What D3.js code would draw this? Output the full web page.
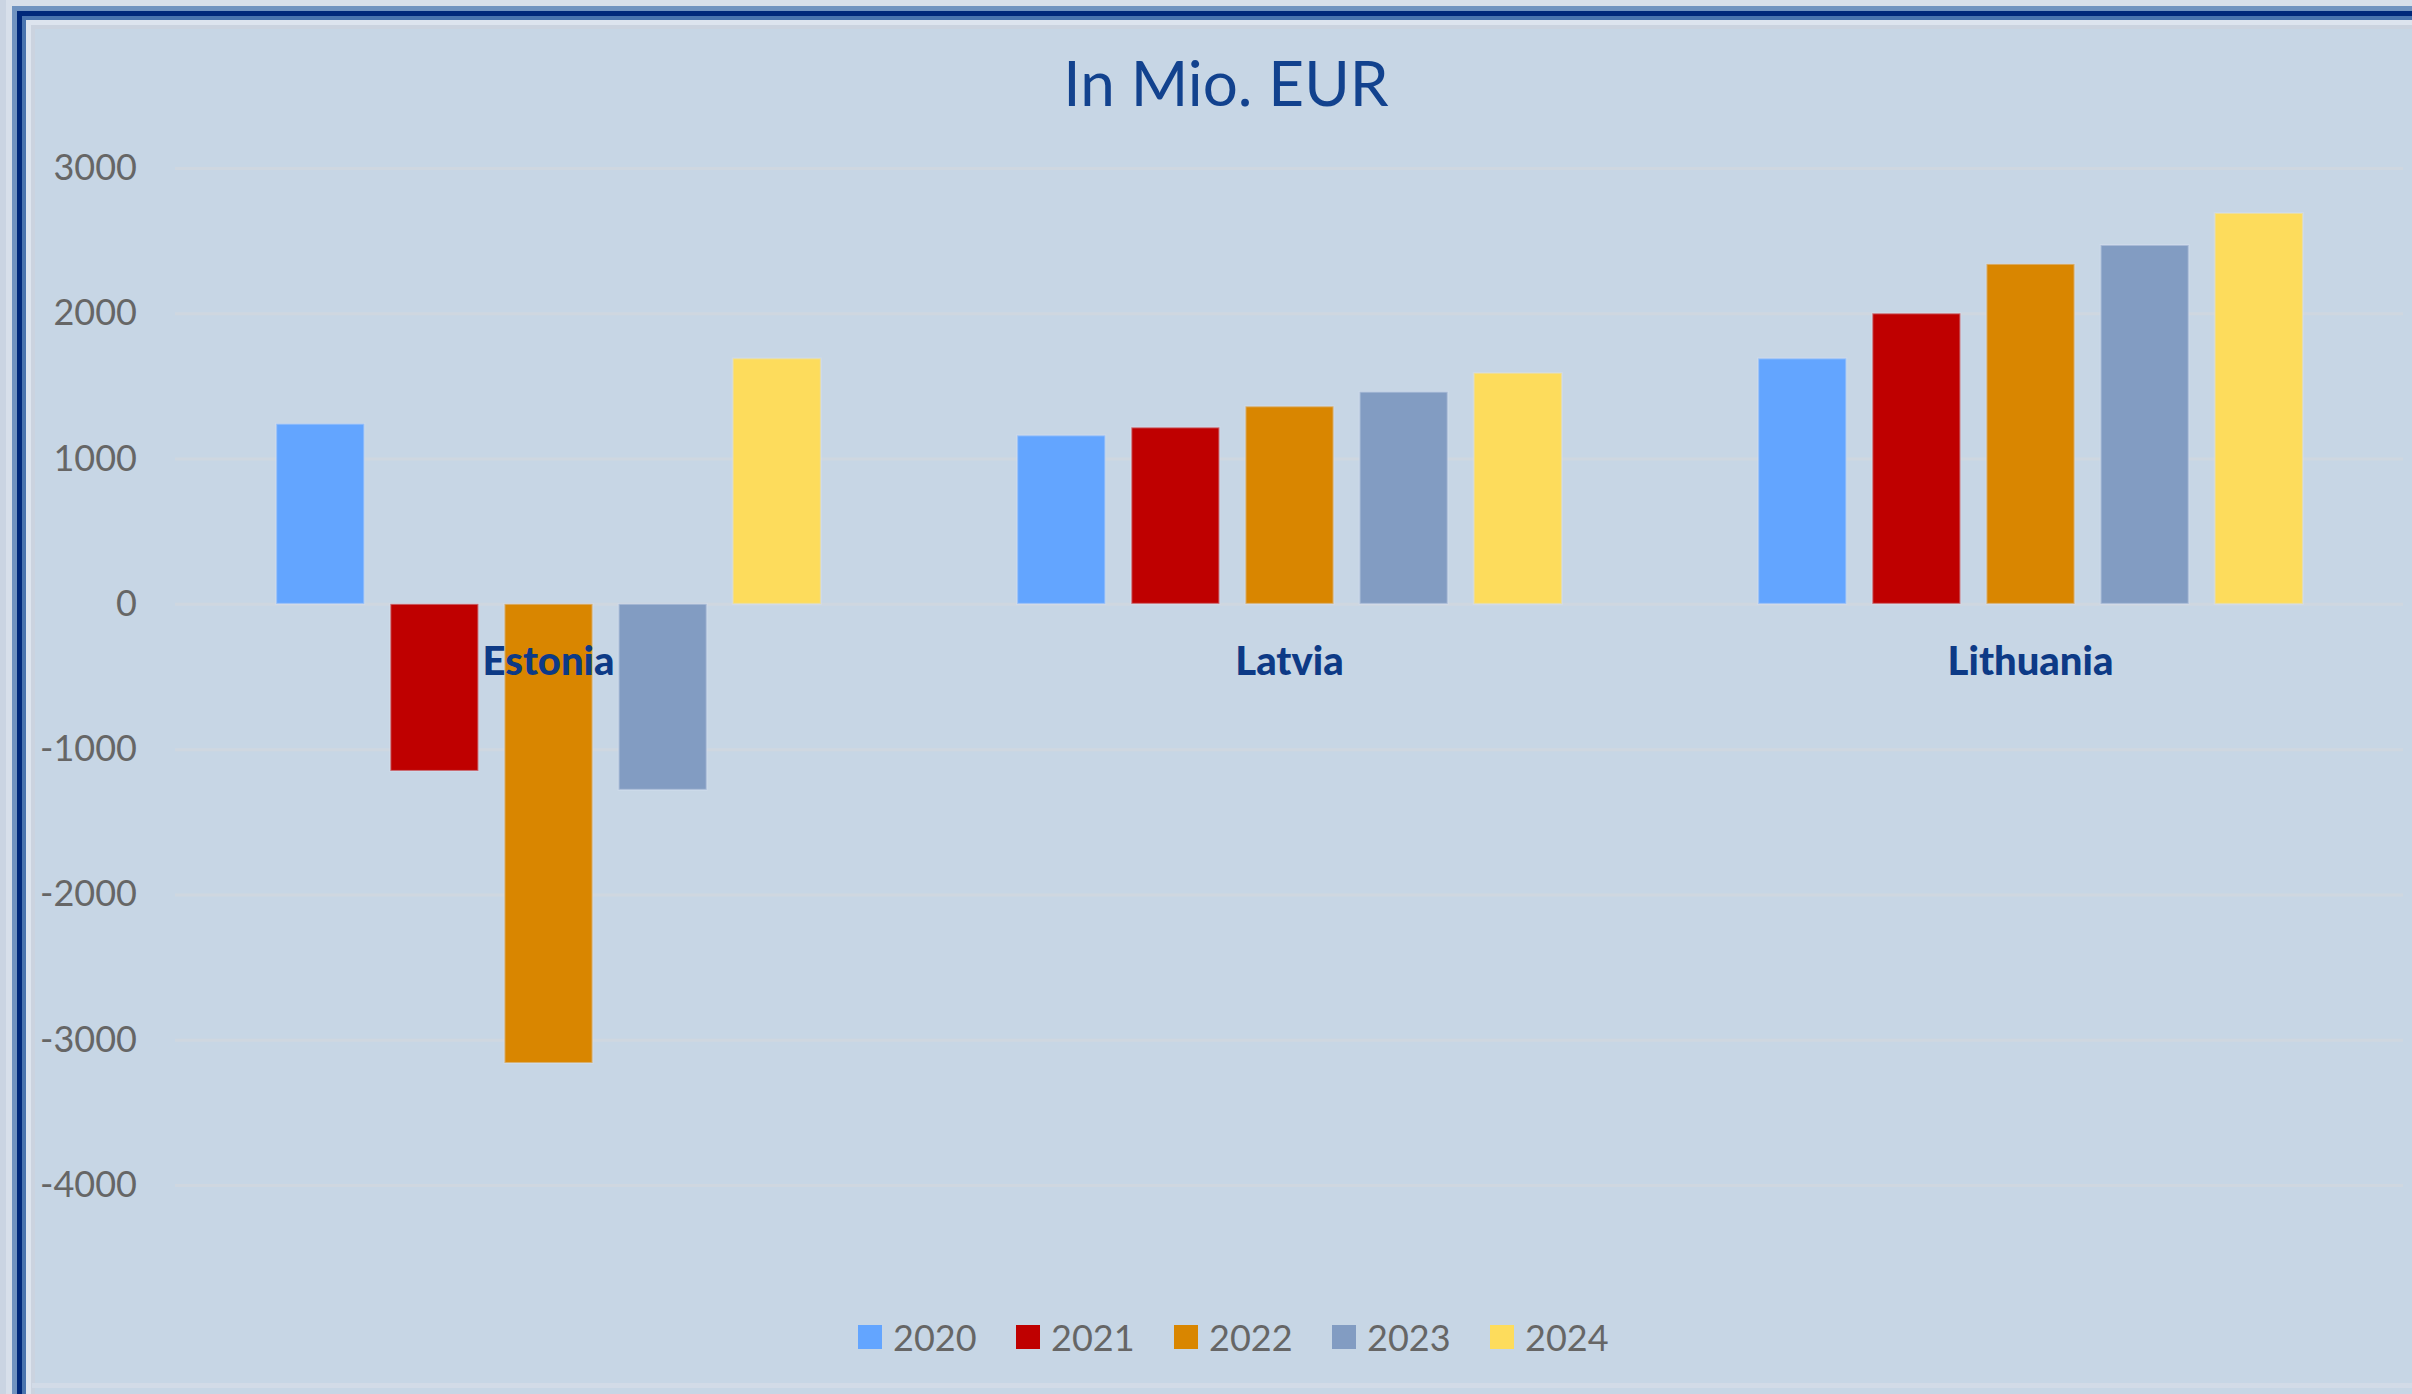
<!DOCTYPE html>
<html>
<head>
<meta charset="utf-8">
<script src="https://cdn.jsdelivr.net/npm/d3@7"></script>
<style>
	body { margin: 0; background: #c7d6e5; }
	svg { display: block; }
</style>
</head>
<body>
<div class="chart"></div>
<script>
var countries = ["Estonia", "Latvia", "Lithuania"];
var years = ["2020", "2021", "2022", "2023", "2024"];

// values in Mio. EUR, one array per year (Estonia, Latvia, Lithuania)
var values2020 = [1240, 1160, 1690];
var values2021 = [-1150, 1215, 2000];
var values2022 = [-3160, 1360, 2340];
var values2023 = [-1280, 1460, 2470];
var values2024 = [1690, 1590, 2690];

var yTicks = [3000, 2000, 1000, 0, -1000, -2000, -3000, -4000];
var colors = ["#63a5ff", "#bf0000", "#d98600", "#829cc2", "#fddc5c"];

var seriesValues = [values2020, values2021, values2022, values2023, values2024];
var dataSet = [];
countries.forEach(function(c, i) {
	years.forEach(function(yr, j) {
		dataSet.push({ country: c, year: yr, value: seriesValues[j][i] });
	});
});

var width = 2412;
var height = 1394;

var svg = d3.select(".chart")
	.append("svg")
	.attr("width", width)
	.attr("height", height);

svg.append("rect")
	.attr("width", width)
	.attr("height", height)
	.attr("fill", "#c7d6e5");

// frame: top offset, thickness, colour (left side sits 6px further in)
var frame = [
	[0, 6, "#d7dfea"],
	[6, 5, "#7093c0"],
	[11, 5, "#00287a"],
	[16, 4, "#4a74ae"],
	[20, 5, "#dde4ee"],
	[25, 4, "#cbd3df"]
];
frame.forEach(function(f) {
	svg.append("rect")
		.attr("x", f[0] + 6)
		.attr("y", f[0])
		.attr("width", width)
		.attr("height", f[1])
		.attr("fill", f[2]);
	svg.append("rect")
		.attr("x", f[0] + 6)
		.attr("y", f[0])
		.attr("width", f[1])
		.attr("height", height)
		.attr("fill", f[2]);
});
svg.append("rect")
	.attr("x", 0).attr("y", 0)
	.attr("width", 6).attr("height", height)
	.attr("fill", "#cad4e2");
svg.append("rect")
	.attr("x", 32).attr("y", 1383)
	.attr("width", width).attr("height", 5)
	.attr("fill", "#d2dbe7");

var plotLeft = 175;
var plotRight = 2403;

var x0 = d3.scaleBand()
	.domain(countries)
	.range([178, 2401]);

var x1 = d3.scaleBand()
	.domain(years)
	.range([0, x0.bandwidth()])
	.paddingInner(0.228)
	.paddingOuter(0.86);

var y = d3.scaleLinear()
	.domain([-4000, 3000])
	.range([1185, 168]);

var color = d3.scaleOrdinal()
	.domain(years)
	.range(colors);

// Axis + gridlines
var yAxis = svg.append("g")
	.attr("class", "y-axis")
	.attr("transform", "translate(" + plotLeft + ",0)")
	.call(d3.axisLeft(y)
		.tickValues(yTicks)
		.tickSize(-(plotRight - plotLeft))
		.tickPadding(38)
		.tickFormat(function(d) { return String(d); }));

yAxis.select(".domain").remove();
yAxis.selectAll(".tick line")
	.attr("stroke", "#cfd7e0")
	.attr("stroke-width", 3);
yAxis.selectAll(".tick text")
	.attr("fill", "#666666")
	.style("font-family", "Lato, sans-serif")
	.style("font-size", "36px");

// Bars
svg.append("g")
	.attr("class", "bars")
	.selectAll("rect")
	.data(dataSet)
	.enter()
	.append("rect")
	.attr("x", function(d) { return x0(d.country) + x1(d.year); })
	.attr("y", function(d) { return y(Math.max(0, d.value)); })
	.attr("width", x1.bandwidth())
	.attr("height", function(d) { return Math.abs(y(d.value) - y(0)); })
	.attr("fill", function(d) { return color(d.year); })
	.attr("stroke", "rgba(215,225,240,0.45)")
	.attr("stroke-width", 2);

// Category labels
svg.append("g")
	.attr("class", "categories")
	.selectAll("text")
	.data(countries)
	.enter()
	.append("text")
	.attr("x", function(d) { return x0(d) + x0.bandwidth() / 2; })
	.attr("y", 660)
	.attr("text-anchor", "middle")
	.attr("dominant-baseline", "central")
	.attr("fill", "#0d3a86")
	.style("font-family", "Lato, sans-serif")
	.style("font-weight", "900")
	.style("font-size", "40px")
	.text(function(d) { return d; });

// Title
svg.append("text")
	.attr("x", 1226)
	.attr("y", 106)
	.attr("text-anchor", "middle")
	.attr("fill", "#12428e")
	.style("font-family", "Lato, sans-serif")
	.style("font-size", "62px")
	.text("In Mio. EUR");

// Legend
var legendStep = 158;
var legend = svg.append("g")
	.attr("class", "legend")
	.attr("transform", "translate(858,1337)");

var item = legend.selectAll(".item")
	.data(years)
	.enter()
	.append("g")
	.attr("class", "item")
	.attr("transform", function(d, i) { return "translate(" + (i * legendStep) + ",0)"; });

item.append("rect")
	.attr("x", 0)
	.attr("y", -12)
	.attr("width", 24)
	.attr("height", 24)
	.attr("fill", function(d) { return color(d); });

item.append("text")
	.attr("x", 35)
	.attr("y", 0)
	.attr("dominant-baseline", "central")
	.attr("fill", "#666666")
	.style("font-family", "Lato, sans-serif")
	.style("font-size", "36px")
	.text(function(d) { return d; });
</script>
</body>
</html>
